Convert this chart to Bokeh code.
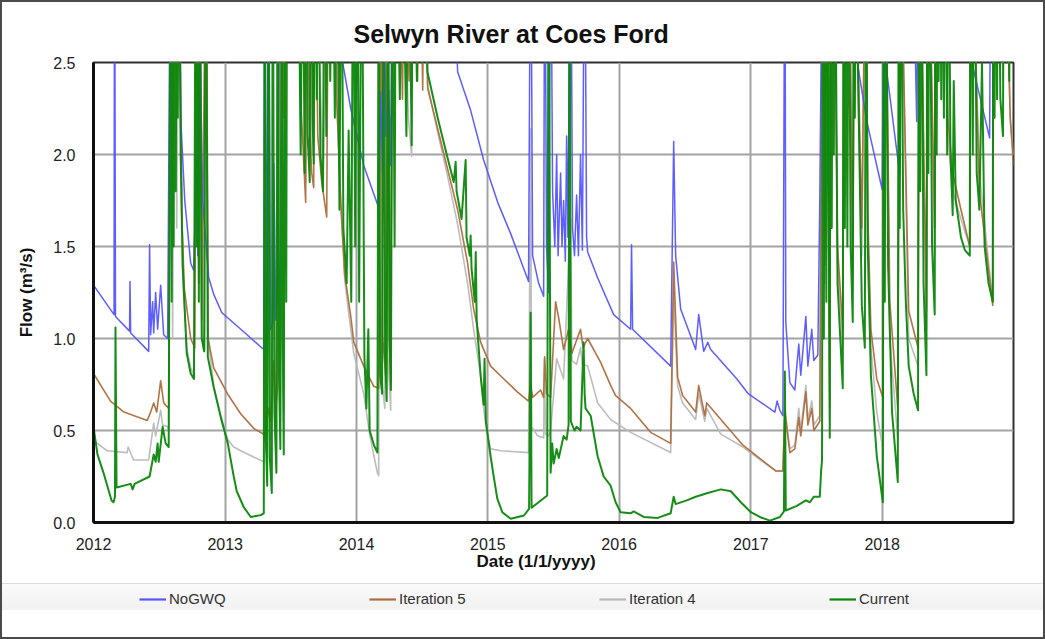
from datetime import datetime, timedelta

from bokeh.embed import file_html
from bokeh.layouts import column
from bokeh.models import (DatetimeTickFormatter, FixedTicker, Legend,
                          LegendItem, NumeralTickFormatter, Title)
from bokeh.plotting import figure
from bokeh.resources import INLINE

# Simulated daily flow at Coes Ford, (decimal year, flow m3/s) pairs.
# Values above the 2.5 axis limit are flood peaks that run off the chart.
nogwq = [
    (2012.000, 1.29), (2012.156, 1.13), (2012.160, 3.5), (2012.167, 1.12),
    (2012.274, 1.04), (2012.277, 1.31), (2012.282, 1.03),
    (2012.419, 0.93), (2012.426, 1.51), (2012.434, 1.02), (2012.449, 1.20),
    (2012.457, 1.03), (2012.472, 1.25), (2012.487, 1.05), (2012.510, 1.29),
    (2012.533, 1.02), (2012.563, 1.00), (2012.586, 3.5), (2012.601, 2.6),
    (2012.616, 3.5), (2012.632, 3.0), (2012.647, 3.5), (2012.662, 2.2),
    (2012.693, 1.75), (2012.738, 1.41), (2012.761, 1.37), (2012.784, 2.00),
    (2012.792, 1.45), (2012.806, 3.5), (2012.814, 2.40), (2012.829, 1.75),
    (2012.875, 1.33), (2012.913, 1.24), (2012.975, 1.14), (2013.119, 1.05),
    (2013.294, 0.94), (2013.301, 3.5), (2013.316, 0.93), (2013.330, 3.5),
    (2013.345, 1.05), (2013.362, 1.08), (2013.370, 1.95), (2013.385, 1.10),
    (2013.400, 1.30), (2013.415, 3.5), (2013.850, 3.0), (2013.870, 2.6),
    (2013.956, 2.25), (2014.055, 1.94), (2014.169, 1.71), (2014.184, 2.34),
    (2014.199, 1.90), (2014.207, 3.5), (2014.222, 2.10), (2014.245, 2.35),
    (2014.260, 1.94), (2014.275, 3.5), (2014.740, 3.0), (2014.770, 2.45),
    (2014.869, 2.24), (2014.968, 1.97), (2015.075, 1.74), (2015.174, 1.57),
    (2015.310, 1.31), (2015.326, 3.5), (2015.341, 1.45), (2015.387, 1.30),
    (2015.425, 1.23), (2015.433, 3.5), (2015.447, 1.50), (2015.463, 1.25),
    (2015.478, 3.5), (2015.493, 1.80), (2015.510, 1.50), (2015.524, 2.00),
    (2015.535, 1.45), (2015.554, 1.90), (2015.565, 1.50), (2015.577, 1.75),
    (2015.590, 1.42), (2015.600, 2.10), (2015.610, 1.55), (2015.630, 3.5),
    (2015.645, 1.60), (2015.660, 1.45), (2015.676, 1.78), (2015.690, 1.45),
    (2015.706, 2.00), (2015.720, 1.48), (2015.737, 3.5), (2015.752, 1.55),
    (2015.760, 1.47), (2015.836, 1.33), (2015.958, 1.13), (2016.087, 1.05),
    (2016.094, 1.51), (2016.102, 1.05), (2016.391, 0.85), (2016.414, 2.07),
    (2016.429, 1.45), (2016.467, 1.16), (2016.581, 0.94), (2016.604, 1.13),
    (2016.642, 0.93), (2016.673, 0.98), (2016.695, 0.94), (2016.894, 0.78),
    (2016.980, 0.70), (2017.183, 0.60), (2017.200, 0.66), (2017.221, 0.61),
    (2017.244, 0.58), (2017.259, 3.5), (2017.266, 1.09), (2017.297, 0.76),
    (2017.335, 0.72), (2017.350, 0.85), (2017.365, 0.97), (2017.380, 0.80),
    (2017.419, 1.12), (2017.434, 0.85), (2017.464, 1.05), (2017.479, 0.88),
    (2017.510, 0.91), (2017.525, 1.76), (2017.548, 3.5), (2017.800, 3.0),
    (2017.815, 2.48), (2017.883, 2.18), (2018.000, 1.81), (2018.020, 3.5),
    (2018.035, 2.45), (2018.134, 1.89), (2018.150, 3.5), (2018.190, 2.6),
    (2018.225, 3.5), (2018.263, 2.18), (2018.280, 3.5), (2018.680, 3.0),
    (2018.689, 2.48), (2018.818, 2.09), (2018.830, 3.5), (2019.000, 3.0),
]

iteration5 = [
    (2012.000, 0.81), (2012.129, 0.66), (2012.231, 0.60), (2012.408, 0.555),
    (2012.434, 0.60), (2012.457, 0.65), (2012.480, 0.60), (2012.510, 0.77),
    (2012.533, 0.65), (2012.571, 0.62), (2012.586, 3.5), (2012.601, 1.8),
    (2012.616, 3.5), (2012.632, 2.4), (2012.647, 3.5), (2012.670, 1.67),
    (2012.690, 1.27), (2012.738, 1.00), (2012.769, 0.95), (2012.784, 3.5),
    (2012.799, 1.30), (2012.806, 3.5), (2012.822, 1.10), (2012.856, 3.5),
    (2012.870, 1.00), (2012.913, 0.84), (2013.017, 0.70), (2013.119, 0.59),
    (2013.220, 0.51), (2013.294, 0.48), (2013.310, 0.50), (2013.330, 0.62),
    (2013.345, 0.55), (2013.370, 0.88), (2013.385, 0.60), (2013.400, 0.75),
    (2013.415, 3.5), (2013.446, 2.2), (2013.461, 3.5), (2013.552, 3.5),
    (2013.575, 2.3), (2013.613, 1.74), (2013.621, 3.5), (2013.640, 2.2),
    (2013.659, 1.9), (2013.674, 1.82), (2013.682, 3.5), (2013.705, 2.1),
    (2013.735, 1.85), (2013.773, 1.66), (2013.788, 3.5), (2013.826, 3.5),
    (2013.849, 2.3), (2013.880, 1.75), (2013.910, 1.35), (2013.956, 1.12),
    (2013.979, 0.98), (2014.055, 0.85), (2014.131, 0.74), (2014.169, 0.73),
    (2014.184, 3.5), (2014.200, 1.0), (2014.222, 0.80), (2014.237, 3.5),
    (2014.250, 1.0), (2014.260, 0.76), (2014.275, 3.5), (2014.300, 2.6),
    (2014.314, 3.5), (2014.350, 2.3), (2014.367, 3.5), (2014.400, 2.4),
    (2014.420, 3.5), (2014.465, 2.4), (2014.480, 3.5), (2014.504, 2.35),
    (2014.520, 3.5), (2014.542, 2.36), (2014.618, 2.14), (2014.694, 1.92),
    (2014.770, 1.70), (2014.846, 1.41), (2014.892, 1.16), (2014.945, 0.98),
    (2015.021, 0.85), (2015.122, 0.78), (2015.224, 0.71), (2015.310, 0.66),
    (2015.326, 0.75), (2015.341, 0.68), (2015.402, 0.72), (2015.425, 0.68),
    (2015.433, 0.90), (2015.447, 0.70), (2015.478, 0.68), (2015.516, 1.20),
    (2015.540, 1.11), (2015.577, 0.94), (2015.615, 1.05), (2015.640, 0.92),
    (2015.706, 1.05), (2015.725, 0.95), (2015.760, 1.00), (2015.859, 0.87),
    (2015.935, 0.745), (2015.973, 0.69), (2016.087, 0.62), (2016.239, 0.49),
    (2016.391, 0.43), (2016.414, 1.415), (2016.444, 0.79), (2016.482, 0.69),
    (2016.581, 0.60), (2016.604, 0.745), (2016.650, 0.58), (2016.665, 0.65),
    (2016.940, 0.42), (2017.190, 0.28), (2017.244, 0.28), (2017.259, 0.60),
    (2017.297, 0.38), (2017.335, 0.40), (2017.365, 0.57), (2017.380, 0.47),
    (2017.419, 0.71), (2017.434, 0.53), (2017.464, 0.62), (2017.480, 0.50),
    (2017.525, 0.55), (2017.548, 3.5), (2017.563, 1.4), (2017.575, 3.5),
    (2017.601, 0.62), (2017.612, 3.5), (2017.632, 3.5), (2017.660, 1.5),
    (2017.700, 1.05), (2017.712, 3.5), (2017.745, 3.5), (2017.776, 1.35),
    (2017.792, 3.5), (2017.815, 2.6), (2017.845, 1.60), (2017.876, 3.5),
    (2017.890, 1.7), (2017.914, 1.05), (2017.959, 0.78), (2018.005, 0.68),
    (2018.020, 3.5), (2018.058, 1.2), (2018.119, 0.62), (2018.134, 3.5),
    (2018.202, 1.15), (2018.273, 0.95), (2018.283, 3.5), (2018.337, 1.15),
    (2018.347, 3.5), (2018.400, 1.6), (2018.408, 3.5), (2018.462, 3.5),
    (2018.500, 2.2), (2018.537, 1.9), (2018.600, 1.7), (2018.667, 1.5),
    (2018.675, 3.5), (2018.740, 1.8), (2018.842, 1.18), (2018.850, 3.5),
    (2018.920, 2.5), (2018.930, 3.5), (2018.975, 2.2), (2019.000, 1.94),
]

iteration4 = [
    (2012.000, 0.445), (2012.103, 0.39), (2012.255, 0.38), (2012.263, 0.41),
    (2012.304, 0.34), (2012.419, 0.34), (2012.457, 0.54), (2012.472, 0.47),
    (2012.510, 0.61), (2012.525, 0.53), (2012.563, 0.52), (2012.571, 0.50),
    (2012.586, 3.5), (2012.601, 1.0), (2012.616, 3.5), (2012.632, 1.6),
    (2012.647, 3.5), (2012.677, 1.35), (2012.708, 0.95), (2012.738, 0.84),
    (2012.763, 0.80), (2012.784, 3.5), (2012.800, 1.3), (2012.806, 3.5),
    (2012.822, 1.0), (2012.845, 0.94), (2012.856, 3.5), (2012.870, 1.0),
    (2012.913, 0.74), (2012.967, 0.58), (2013.020, 0.45), (2013.065, 0.41),
    (2013.119, 0.39), (2013.220, 0.355), (2013.294, 0.33), (2013.301, 1.40),
    (2013.310, 0.40), (2013.320, 0.36), (2013.330, 3.5), (2013.345, 0.45),
    (2013.370, 0.80), (2013.385, 0.50), (2013.400, 3.5), (2013.420, 0.55),
    (2013.430, 3.5), (2013.446, 0.60), (2013.455, 3.5), (2013.552, 3.5),
    (2013.575, 2.1), (2013.590, 3.5), (2013.613, 1.85), (2013.621, 3.5),
    (2013.659, 2.0), (2013.682, 3.5), (2013.745, 1.85), (2013.788, 3.5),
    (2013.826, 3.5), (2013.849, 2.3), (2013.880, 1.72), (2013.910, 1.32),
    (2013.956, 1.05), (2013.979, 0.92), (2014.055, 0.70), (2014.100, 0.48),
    (2014.133, 0.36), (2014.159, 0.27), (2014.169, 0.255), (2014.178, 3.5),
    (2014.190, 0.80), (2014.215, 0.62), (2014.225, 3.5), (2014.240, 0.90),
    (2014.260, 0.61), (2014.275, 3.5), (2014.300, 2.6), (2014.345, 3.5),
    (2014.395, 2.2), (2014.420, 1.99), (2014.430, 3.5), (2014.460, 2.45),
    (2014.475, 3.5), (2014.515, 3.5), (2014.540, 2.38), (2014.618, 2.12),
    (2014.694, 1.88), (2014.770, 1.62), (2014.846, 1.30), (2014.892, 1.05),
    (2014.945, 0.80), (2014.968, 0.62), (2014.996, 0.48), (2015.021, 0.40),
    (2015.100, 0.39), (2015.310, 0.38), (2015.326, 2.14), (2015.333, 0.52),
    (2015.380, 0.47), (2015.425, 0.46), (2015.430, 0.89), (2015.440, 0.48),
    (2015.463, 0.47), (2015.478, 0.50), (2015.524, 0.89), (2015.577, 0.78),
    (2015.630, 1.65), (2015.640, 0.88), (2015.676, 0.86), (2015.706, 0.95),
    (2015.720, 0.86), (2015.760, 0.85), (2015.836, 0.65), (2015.935, 0.56),
    (2016.087, 0.49), (2016.391, 0.38), (2016.414, 1.25), (2016.444, 0.74),
    (2016.482, 0.65), (2016.581, 0.56), (2016.604, 0.70), (2016.650, 0.55),
    (2016.665, 0.62), (2016.772, 0.48), (2016.940, 0.41), (2017.190, 0.28),
    (2017.244, 0.28), (2017.259, 0.62), (2017.297, 0.40), (2017.335, 0.42),
    (2017.365, 0.62), (2017.380, 0.50), (2017.419, 0.745), (2017.434, 0.56),
    (2017.464, 0.66), (2017.480, 0.53), (2017.525, 0.58), (2017.548, 3.5),
    (2017.563, 1.3), (2017.575, 3.5), (2017.601, 0.55), (2017.612, 3.5),
    (2017.632, 3.5), (2017.660, 1.4), (2017.700, 0.95), (2017.712, 3.5),
    (2017.745, 3.5), (2017.776, 1.25), (2017.792, 3.5), (2017.815, 2.4),
    (2017.845, 1.45), (2017.876, 3.5), (2017.890, 1.6), (2017.914, 0.95),
    (2017.959, 0.60), (2018.005, 0.40), (2018.020, 3.5), (2018.058, 1.0),
    (2018.119, 0.45), (2018.134, 3.5), (2018.202, 1.0), (2018.273, 0.85),
    (2018.283, 3.5), (2018.337, 1.05), (2018.347, 3.5), (2018.400, 1.45),
    (2018.408, 3.5), (2018.462, 3.5), (2018.500, 2.1), (2018.537, 1.8),
    (2018.600, 1.65), (2018.667, 1.5), (2018.675, 3.5), (2018.740, 1.9),
    (2018.842, 1.2), (2018.850, 3.5), (2018.920, 2.4), (2018.930, 3.5),
    (2018.975, 2.2), (2019.000, 2.0),
]

current = [
    (2012.000, 0.52), (2012.030, 0.37), (2012.076, 0.27), (2012.137, 0.12),
    (2012.152, 0.11), (2012.163, 0.14), (2012.167, 1.06), (2012.175, 0.19),
    (2012.282, 0.21), (2012.297, 0.18), (2012.312, 0.21), (2012.426, 0.25),
    (2012.457, 0.37), (2012.472, 0.33), (2012.487, 0.43), (2012.495, 0.33),
    (2012.525, 0.52), (2012.548, 0.43), (2012.571, 0.41), (2012.586, 3.5),
    (2012.594, 1.2), (2012.601, 3.5), (2012.609, 1.5), (2012.616, 3.5),
    (2012.625, 1.8), (2012.632, 3.5), (2012.640, 2.2), (2012.647, 3.5),
    (2012.662, 2.0), (2012.677, 1.4), (2012.708, 0.92), (2012.738, 0.81),
    (2012.763, 0.78), (2012.776, 3.5), (2012.784, 1.5), (2012.792, 3.5),
    (2012.800, 1.2), (2012.806, 3.5), (2012.822, 1.0), (2012.840, 0.93),
    (2012.853, 3.5), (2012.868, 0.90), (2012.913, 0.735), (2012.967, 0.57),
    (2013.020, 0.43), (2013.065, 0.25), (2013.088, 0.17), (2013.142, 0.083),
    (2013.195, 0.03), (2013.271, 0.04), (2013.294, 0.05), (2013.301, 3.5),
    (2013.310, 0.45), (2013.320, 0.20), (2013.330, 3.5), (2013.340, 0.35),
    (2013.355, 0.16), (2013.362, 3.5), (2013.375, 0.60), (2013.390, 0.27),
    (2013.400, 3.5), (2013.410, 0.80), (2013.420, 0.40), (2013.430, 3.5),
    (2013.438, 1.0), (2013.446, 0.37), (2013.455, 3.5), (2013.465, 1.2),
    (2013.472, 3.5), (2013.552, 3.5), (2013.575, 2.0), (2013.590, 3.5),
    (2013.605, 1.9), (2013.613, 3.5), (2013.628, 2.1), (2013.644, 1.85),
    (2013.651, 3.5), (2013.666, 2.2), (2013.674, 1.95), (2013.682, 3.5),
    (2013.697, 2.3), (2013.705, 3.5), (2013.725, 2.0), (2013.745, 1.8),
    (2013.755, 3.5), (2013.770, 2.1), (2013.780, 3.5), (2013.800, 2.4),
    (2013.815, 3.5), (2013.835, 2.2), (2013.850, 3.5), (2013.870, 1.7),
    (2013.885, 3.5), (2013.900, 1.6), (2013.925, 1.3), (2013.940, 2.13),
    (2013.960, 1.2), (2013.975, 3.5), (2013.990, 1.5), (2014.005, 3.5),
    (2014.020, 1.2), (2014.040, 3.5), (2014.060, 0.9), (2014.075, 0.62),
    (2014.090, 1.05), (2014.100, 0.50), (2014.133, 0.42), (2014.159, 0.38),
    (2014.169, 3.5), (2014.180, 0.8), (2014.195, 0.70), (2014.207, 3.5),
    (2014.218, 0.9), (2014.230, 0.66), (2014.240, 3.5), (2014.252, 1.0),
    (2014.262, 0.72), (2014.275, 3.5), (2014.290, 1.5), (2014.300, 3.5),
    (2014.330, 2.3), (2014.345, 3.5), (2014.380, 2.1), (2014.395, 3.5),
    (2014.420, 2.05), (2014.430, 3.5), (2014.460, 2.4), (2014.475, 3.5),
    (2014.500, 2.5), (2014.515, 3.5), (2014.540, 2.45), (2014.618, 2.2),
    (2014.694, 1.98), (2014.740, 1.85), (2014.755, 1.96), (2014.762, 1.80),
    (2014.800, 1.65), (2014.831, 1.97), (2014.838, 1.55), (2014.862, 1.45),
    (2014.869, 1.56), (2014.876, 1.38), (2014.900, 1.20), (2014.908, 1.47),
    (2014.915, 1.10), (2014.945, 0.80), (2014.968, 0.64), (2014.975, 0.89),
    (2014.985, 0.55), (2014.996, 0.49), (2015.021, 0.36), (2015.047, 0.24),
    (2015.072, 0.13), (2015.110, 0.056), (2015.174, 0.02), (2015.275, 0.038),
    (2015.314, 0.074), (2015.326, 1.14), (2015.333, 0.08), (2015.452, 0.147),
    (2015.463, 3.5), (2015.478, 0.27), (2015.490, 0.43), (2015.501, 0.32),
    (2015.524, 0.40), (2015.540, 0.35), (2015.577, 0.47), (2015.600, 0.45),
    (2015.615, 0.53), (2015.622, 3.5), (2015.632, 0.55), (2015.660, 0.50),
    (2015.676, 0.52), (2015.706, 0.50), (2015.729, 0.98), (2015.737, 0.70),
    (2015.744, 0.62), (2015.783, 0.58), (2015.836, 0.36), (2015.882, 0.25),
    (2015.935, 0.20), (2015.973, 0.11), (2016.011, 0.056), (2016.087, 0.05),
    (2016.110, 0.06), (2016.186, 0.03), (2016.292, 0.025), (2016.391, 0.05),
    (2016.414, 0.14), (2016.429, 0.10), (2016.513, 0.12), (2016.581, 0.14),
    (2016.673, 0.16), (2016.772, 0.18), (2016.848, 0.17), (2016.924, 0.11),
    (2017.000, 0.056), (2017.068, 0.03), (2017.145, 0.01), (2017.221, 0.03),
    (2017.252, 0.06), (2017.259, 0.82), (2017.266, 0.065), (2017.350, 0.09),
    (2017.419, 0.12), (2017.450, 0.11), (2017.479, 0.14), (2017.525, 0.14),
    (2017.535, 0.28), (2017.542, 0.34), (2017.548, 3.5), (2017.556, 1.0),
    (2017.563, 3.5), (2017.575, 1.2), (2017.582, 3.5), (2017.601, 0.46),
    (2017.606, 3.5), (2017.616, 1.6), (2017.624, 3.5), (2017.632, 2.0),
    (2017.640, 3.5), (2017.660, 1.3), (2017.700, 0.73), (2017.706, 3.5),
    (2017.716, 1.6), (2017.724, 3.5), (2017.735, 1.5), (2017.745, 3.5),
    (2017.760, 1.5), (2017.776, 1.09), (2017.784, 3.5), (2017.792, 2.2),
    (2017.800, 3.5), (2017.815, 2.5), (2017.845, 1.18), (2017.868, 0.95),
    (2017.876, 3.5), (2017.890, 1.5), (2017.914, 0.80), (2017.959, 0.36),
    (2018.005, 0.11), (2018.012, 3.5), (2018.020, 1.2), (2018.028, 3.5),
    (2018.045, 1.4), (2018.075, 0.6), (2018.119, 0.22), (2018.126, 3.5),
    (2018.134, 1.6), (2018.142, 3.5), (2018.160, 1.7), (2018.180, 1.2),
    (2018.202, 0.85), (2018.240, 0.70), (2018.273, 0.61), (2018.280, 3.5),
    (2018.290, 1.8), (2018.298, 3.5), (2018.315, 1.3), (2018.337, 0.80),
    (2018.344, 3.5), (2018.352, 1.9), (2018.360, 3.5), (2018.380, 1.5),
    (2018.400, 1.13), (2018.405, 3.5), (2018.415, 2.0), (2018.422, 3.5),
    (2018.430, 2.4), (2018.440, 3.5), (2018.450, 2.3), (2018.458, 3.5),
    (2018.470, 2.2), (2018.478, 3.5), (2018.495, 2.0), (2018.505, 3.5),
    (2018.520, 2.0), (2018.537, 1.67), (2018.545, 2.4), (2018.560, 1.75),
    (2018.600, 1.55), (2018.630, 1.48), (2018.667, 1.45), (2018.672, 3.5),
    (2018.690, 2.0), (2018.700, 3.5), (2018.720, 1.9), (2018.740, 1.7),
    (2018.760, 2.5), (2018.780, 1.5), (2018.810, 1.3), (2018.842, 1.20),
    (2018.846, 3.5), (2018.856, 2.2), (2018.862, 3.5), (2018.875, 2.3),
    (2018.882, 3.5), (2018.900, 2.3), (2018.920, 2.1), (2018.926, 3.5),
    (2018.945, 2.5), (2018.952, 3.5), (2018.968, 2.4), (2018.975, 3.5),
    (2019.000, 3.5),
]

series_names = ["NoGWQ", "Iteration 5", "Iteration 4", "Current"]
tick_years = [2012, 2013, 2014, 2015, 2016, 2017, 2018]
flow_ticks = [0.0, 0.5, 1.0, 1.5, 2.0, 2.5]

FONT = "Liberation Sans"


def to_datetime(t):
    year = int(t)
    start = datetime(year, 1, 1)
    span = (datetime(year + 1, 1, 1) - start).total_seconds()
    return start + timedelta(seconds=(t - year) * span)


def unzip(series):
    return [to_datetime(t) for t, _ in series], [q for _, q in series]


def ms(year):
    return (datetime(year, 1, 1) - datetime(1970, 1, 1)).total_seconds() * 1000.0


# ---- main hydrograph -------------------------------------------------------
p = figure(width=1041, height=581, x_axis_type="datetime",
           x_range=(datetime(2012, 1, 1), datetime(2019, 1, 1)),
           y_range=(0, 2.5), output_backend="svg", toolbar_location=None,
           min_border_left=91, min_border_right=30,
           min_border_top=60, min_border_bottom=61)

p.background_fill_color = "white"
p.border_fill_color = "white"
p.outline_line_color = "#303030"
p.outline_line_width = 2

p.title.text = "Selwyn River at Coes Ford"
p.title.text_font = FONT
p.title.text_font_size = "25px"
p.title.text_font_style = "bold"
p.title.text_color = "#111111"
p.title.align = "left"
p.title.offset = 260
p.title.standoff = 29

year_ticks = FixedTicker(ticks=[ms(y) for y in tick_years + [2019]])
p.xaxis.ticker = FixedTicker(ticks=[ms(y) for y in tick_years])
p.xaxis.formatter = DatetimeTickFormatter(years="%Y", months="%Y", days="%Y",
                                          hours="%Y", minutes="%Y", seconds="%Y")
p.xgrid.ticker = year_ticks
p.yaxis.ticker = FixedTicker(ticks=flow_ticks)
p.yaxis.formatter = NumeralTickFormatter(format="0.0")

for ax in (p.xaxis, p.yaxis):
    ax.axis_line_color = "#111111"
    ax.axis_line_width = 3
    ax.major_tick_line_color = None
    ax.minor_tick_line_color = None
    ax.major_label_text_font = FONT
    ax.major_label_text_font_size = "16px"
    ax.major_label_text_color = "#222222"
p.xaxis.major_label_standoff = 9
p.yaxis.major_label_standoff = 12

p.yaxis.axis_label = "Flow (m³/s)"
p.yaxis.axis_label_text_font = FONT
p.yaxis.axis_label_text_font_size = "17px"
p.yaxis.axis_label_text_font_style = "bold"
p.yaxis.axis_label_text_color = "#111111"
p.yaxis.axis_label_standoff = 14

p.add_layout(Title(text="Date (1/1/yyyy)", text_font=FONT, text_font_size="17px",
                   text_font_style="bold", text_color="#111111",
                   align="left", offset=383, standoff=-6), "below")

for grid in (p.xgrid, p.ygrid):
    grid.grid_line_color = "#a3a3a3"
    grid.grid_line_width = 2

styles = {
    "NoGWQ": ("#5555ff", 1.5),
    "Iteration 5": ("#ad6d3c", 1.6),
    "Iteration 4": ("#b9b9b9", 1.6),
    "Current": ("#0b870b", 2.0),
}
# series drawn back to front
for name, series in (("Iteration 4", iteration4), ("Iteration 5", iteration5),
                     ("NoGWQ", nogwq), ("Current", current)):
    xs, ys = unzip(series)
    color, width = styles[name]
    p.line(xs, ys, line_color=color, line_width=width,
           line_alpha=0.95, line_join="round")

# ---- legend strip (its frame lines up with the hydrograph frame) -----------
key = figure(width=1041, height=54, x_range=(0, 1), y_range=(0, 1),
             output_backend="svg", toolbar_location=None,
             x_axis_location=None, y_axis_location=None, min_border=0)
key.grid.visible = False
key.outline_line_color = None
key.background_fill_alpha = 0
key.border_fill_alpha = 0
key.styles = {
    "background": ("linear-gradient(to bottom, #dcdcdc 0px, #dcdcdc 1px, "
                   "#fbfbfb 1px, #f1f1f1 27px, #ffffff 27px, #ffffff 100%)"),
}

items = []
for name in series_names:
    color, width = styles[name]
    # sample line kept outside the visible range; only its legend swatch shows
    r = key.line([-2, -1], [-2, -1], line_color=color, line_width=2.2)
    items.append(LegendItem(label=name, renderers=[r]))

key.add_layout(Legend(items=items, orientation="horizontal", location=(46, 30),
                      glyph_width=27, glyph_height=12, label_standoff=3,
                      label_width=170, spacing=30, padding=1, margin=0,
                      label_text_font=FONT, label_text_font_size="15px",
                      label_text_color="#333333",
                      background_fill_alpha=0, border_line_color=None), "center")

page = column(p, key, spacing=0)
page.styles = {"border": "2px solid #4a4a4a"}

open("out.html", "w").write(file_html(page, INLINE))
